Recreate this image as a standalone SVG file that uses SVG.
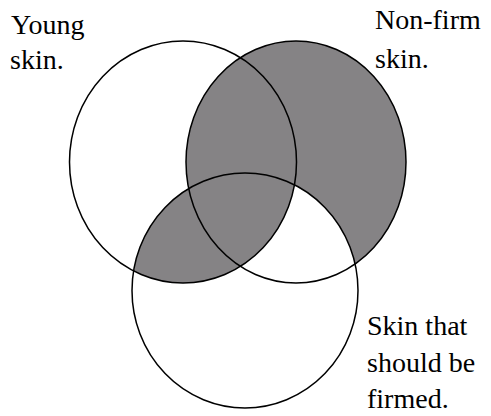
<svg xmlns="http://www.w3.org/2000/svg" width="491" height="416" viewBox="0 0 491 416">
<style>
.lbl{font-family:"Liberation Serif","Times New Roman",serif;font-size:28px;fill:#000}
.ol{fill:none;stroke:#000;stroke-width:1.5}
.sh{fill:#858385}
</style>
<defs>
<clipPath id="clipC"><ellipse cx="245" cy="290.5" rx="113" ry="117.5"/></clipPath>
</defs>
<rect width="491" height="416" fill="#fff"/>
<g id="shading">
<ellipse class="sh" cx="296" cy="162" rx="110" ry="121"/>
<ellipse cx="245" cy="290.5" rx="113" ry="117.5" fill="#fff"/>
<ellipse class="sh" cx="183" cy="162" rx="113.5" ry="121" clip-path="url(#clipC)"/>
</g>
<g id="young-skin">
<ellipse class="ol" cx="183" cy="162" rx="113.5" ry="121"/>
<text class="lbl" x="11" y="34">Young</text>
<text class="lbl" x="10" y="69">skin.</text>
</g>
<g id="non-firm-skin">
<ellipse class="ol" cx="296" cy="162" rx="110" ry="121"/>
<text class="lbl" x="375" y="29">Non-firm</text>
<text class="lbl" x="375" y="68">skin.</text>
</g>
<g id="skin-to-firm">
<ellipse class="ol" cx="245" cy="290.5" rx="113" ry="117.5"/>
<text class="lbl" x="367" y="335">Skin that</text>
<text class="lbl" x="367" y="372">should be</text>
<text class="lbl" x="367" y="408">firmed.</text>
</g>
<g id="connectors"></g>
</svg>
